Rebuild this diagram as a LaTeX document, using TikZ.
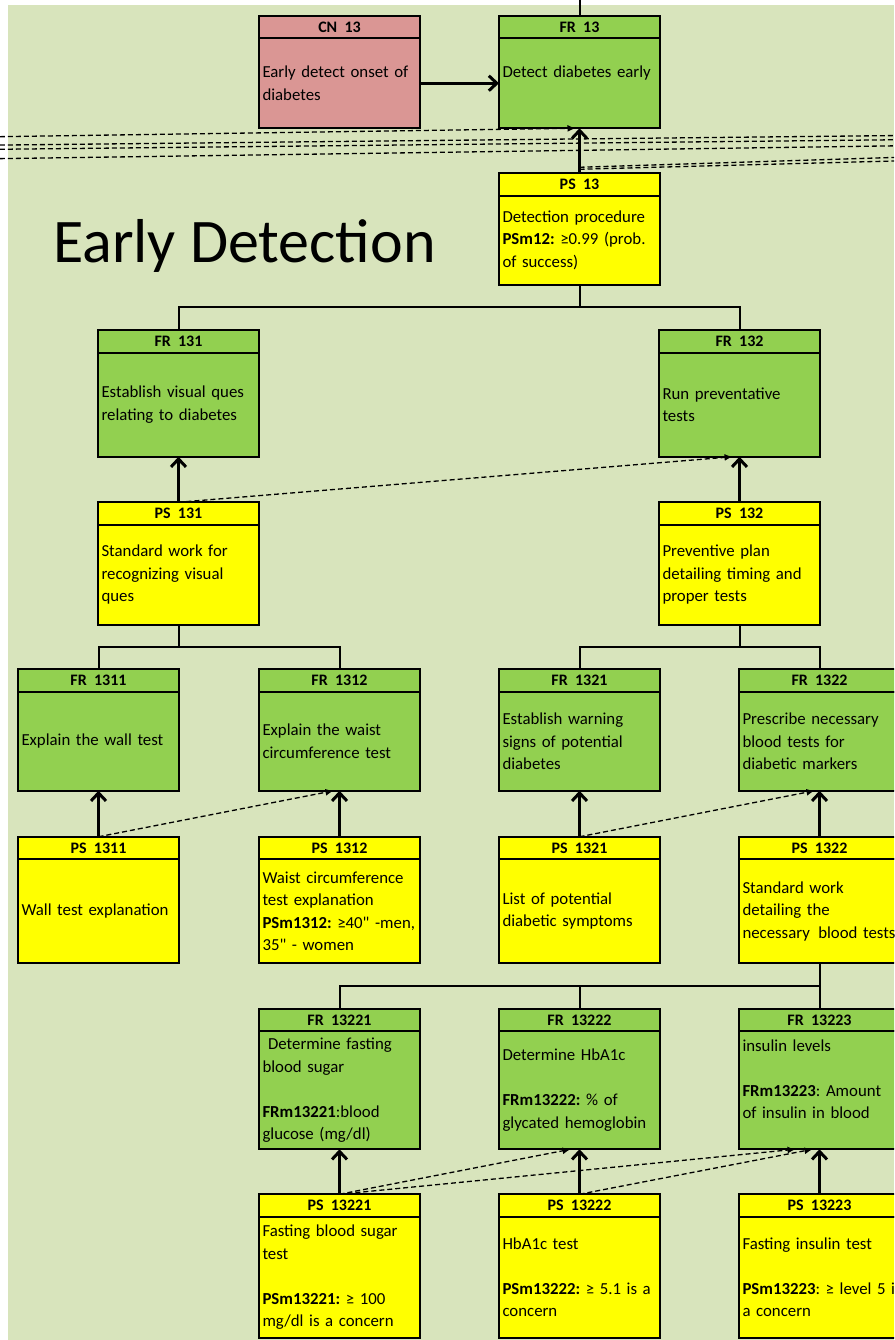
\documentclass[tikz,border=0pt]{standalone}
\usepackage{fontspec}
\setmainfont{Carlito}[Ligatures=TeXOff]
\frenchspacing
\usetikzlibrary{shapes,arrows,arrows.meta}
\usetikzlibrary{positioning}
\definecolor{bggreen}{RGB}{216,228,188}
\definecolor{frgreen}{RGB}{146,208,80}
\definecolor{psyellow}{RGB}{255,255,0}
\definecolor{cnred}{RGB}{218,150,148}

\begin{document}
\begin{tikzpicture}[x=1pt,y=-1pt]

\tikzstyle{head} = [draw, line width=2, outer sep=0, inner sep=0, minimum width=161,
minimum height=22.5, font=\fontsize{16}{19}\selectfont\bfseries]
\tikzstyle{body} = [draw, line width=2, outer sep=0, inner xsep=3.5, inner ysep=0,
text width=154, align=left, minimum width=161, font=\fontsize{16.8}{22.5}\selectfont]
\tikzstyle{green-h} = [head, fill=frgreen]
\tikzstyle{green-b} = [body, fill=frgreen]
\tikzstyle{yellow-h} = [head, fill=psyellow]
\tikzstyle{yellow-b} = [body, fill=psyellow]
\tikzstyle{red-h} = [head, fill=cnred]
\tikzstyle{red-b} = [body, fill=cnred]
\tikzstyle{uparrow} = [line width=3, -{Straight Barb[length=8pt,width=15pt]}]
\tikzstyle{dlink} = [line width=1.3, dash pattern=on 5pt off 3pt, -{Latex[length=8pt,width=7pt]}]
\tikzstyle{dline} = [line width=1.3, dash pattern=on 5pt off 3pt]
\tikzstyle{bus} = [line width=2]

\useasboundingbox (0,0) rectangle (894,1340);
\clip (0,0) rectangle (894,1340);
\fill[white] (0,0) rectangle (894,1340);
\fill[bggreen] (8,5) rectangle (894,1340);

\node[anchor=base west, inner sep=0, font=\fontsize{62}{70}\selectfont] (title) at (53,262) {Early Detection};


\node[red-h] (cn13h) at (339.5,27) {CN~~13};
\node[red-b, minimum height=90, below=0pt of cn13h] (cn13) {Early detect onset of\\diabetes};

\node[green-h] (fr13h) at (579.5,27) {FR~~13};
\node[green-b, minimum height=90, below=0pt of fr13h] (fr13) {Detect diabetes early\\ \mbox{}};

\node[yellow-h] (ps13h) at (579.5,184.5) {PS~~13};
\node[yellow-b, minimum height=89, below=0pt of ps13h] (ps13) {Detection procedure\\\textbf{PSm12:} ≥0.99 (prob.\\of success)};


\node[green-h] (fr131h) at (178.5,341.5) {FR~~131};
\node[green-b, minimum height=104, below=0pt of fr131h] (fr131) {Establish visual ques\\relating to diabetes};

\node[green-h] (fr132h) at (739.5,341.5) {FR~~132};
\node[green-b, minimum height=104, below=0pt of fr132h] (fr132) {Run preventative\\tests};

\node[yellow-h] (ps131h) at (178.5,513.5) {PS~~131};
\node[yellow-b, minimum height=100, below=0pt of ps131h] (ps131) {Standard work for\\recognizing visual\\ques};

\node[yellow-h] (ps132h) at (739.5,513.5) {PS~~132};
\node[yellow-b, minimum height=100, below=0pt of ps132h] (ps132) {Preventive plan\\detailing timing and\\proper tests};


\node[green-h] (fr1311h) at (98.5,680.5) {FR~~1311};
\node[green-b, minimum height=99, below=0pt of fr1311h] (fr1311) {Explain the wall test};

\node[green-h] (fr1312h) at (339.5,680.5) {FR~~1312};
\node[green-b, minimum height=99, below=0pt of fr1312h] (fr1312) {Explain the waist\\circumference test};

\node[green-h] (fr1321h) at (579.5,680.5) {FR~~1321};
\node[green-b, minimum height=99, below=0pt of fr1321h] (fr1321) {Establish warning\\signs of potential\\diabetes};

\node[green-h] (fr1322h) at (819.5,680.5) {FR~~1322};
\node[green-b, minimum height=99, below=0pt of fr1322h] (fr1322) {Prescribe necessary\\blood tests for\\diabetic markers};

\node[yellow-h] (ps1311h) at (98.5,848) {PS~~1311};
\node[yellow-b, minimum height=104, below=0pt of ps1311h] (ps1311) {Wall test explanation};

\node[yellow-h] (ps1312h) at (339.5,848) {PS~~1312};
\node[yellow-b, minimum height=104, below=0pt of ps1312h] (ps1312) {Waist circumference\\test explanation\\\mbox{\textbf{PSm1312:} ≥40" -men,}\\35" - women};

\node[yellow-h] (ps1321h) at (579.5,848) {PS~~1321};
\node[yellow-b, minimum height=104, below=0pt of ps1321h] (ps1321) {List of potential\\diabetic symptoms};

\node[yellow-h] (ps1322h) at (819.5,848) {PS~~1322};
\node[yellow-b, minimum height=104, below=0pt of ps1322h] (ps1322) {Standard work\\detailing the\\\mbox{necessary~\,blood tests}};


\node[green-h] (fr13221h) at (339.5,1020) {FR~~13221};
\node[green-b, minimum height=118, below=0pt of fr13221h] (fr13221) {\ Determine fasting\\blood sugar\\[22.5pt]\textbf{FRm13221}:blood\\glucose (mg/dl)};

\node[green-h] (fr13222h) at (579.5,1020) {FR~~13222};
\node[green-b, minimum height=118, below=0pt of fr13222h] (fr13222) {Determine HbA1c\\[22.5pt]\textbf{FRm13222:} \% of\\glycated hemoglobin};

\node[green-h] (fr13223h) at (819.5,1020) {FR~~13223};
\node[green-b, minimum height=118, below=0pt of fr13223h] (fr13223) {insulin levels\\[22.5pt]\textbf{FRm13223}: Amount\\of insulin in blood\\ \mbox{}};

\node[yellow-h] (ps13221h) at (339.5,1205.5) {PS~~13221};
\node[yellow-b, minimum height=121, below=0pt of ps13221h] (ps13221) {Fasting blood sugar\\test\\[22.5pt]\textbf{PSm13221:} ≥ 100\\mg/dl is a concern};

\node[yellow-h] (ps13222h) at (579.5,1205.5) {PS~~13222};
\node[yellow-b, minimum height=121, below=0pt of ps13222h] (ps13222) {HbA1c test\\[22.5pt]\textbf{PSm13222:} ≥ 5.1 is a\\concern};

\node[yellow-h] (ps13223h) at (819.5,1205.5) {PS~~13223};
\node[yellow-b, minimum height=121, below=0pt of ps13223h] (ps13223) {Fasting insulin test\\[22.5pt]\mbox{\textbf{PSm13223}: ≥ level 5 is}\\a concern};


\coordinate (top13) at (579.5,-20);
\draw[bus] (fr13h.north) -- (top13);
\draw[bus] (ps13.south) -- ++(0,22.5) -| (fr131h.north);
\draw[bus] (ps13.south) -- ++(0,22.5) -| (fr132h.north);
\draw[bus] (ps131.south) -- ++(0,22) -| (fr1311h.north);
\draw[bus] (ps131.south) -- ++(0,22) -| (fr1312h.north);
\draw[bus] (ps132.south) -- ++(0,22) -| (fr1321h.north);
\draw[bus] (ps132.south) -- ++(0,22) -| (fr1322h.north);
\draw[bus] (ps1322.south) -- ++(0,22.5) -| (fr13221h.north);
\draw[bus] (ps1322.south) -- ++(0,22.5) -| (fr13222h.north);
\draw[bus] (ps1322.south) -- ++(0,22.5) -| (fr13223h.north);

\draw[uparrow] (cn13.east) -- (fr13.west);
\draw[uparrow] (ps13h.north) -- (fr13.south);
\draw[uparrow] (ps131h.north) -- (fr131.south);
\draw[uparrow] (ps132h.north) -- (fr132.south);
\draw[uparrow] (ps1311h.north) -- (fr1311.south);
\draw[uparrow] (ps1312h.north) -- (fr1312.south);
\draw[uparrow] (ps1321h.north) -- (fr1321.south);
\draw[uparrow] (ps1322h.north) -- (fr1322.south);
\draw[uparrow] (ps13221h.north) -- (fr13221.south);
\draw[uparrow] (ps13222h.north) -- (fr13222.south);
\draw[uparrow] (ps13223h.north) -- (fr13223.south);

\draw[dlink] (ps131h.north) -- ([xshift=-7pt]fr132.south);
\draw[dlink] (ps1311h.north) -- ([xshift=-6pt]fr1312.south);
\draw[dlink] (ps1321h.north) -- ([xshift=-5pt]fr1322.south);
\draw[dlink] (ps13221h.north) -- ([xshift=-9pt]fr13222.south);
\draw[dlink] (ps13221h.north) -- ([xshift=-24pt]fr13223.south);
\draw[dlink] (ps13222h.north) -- ([xshift=-7pt]fr13223.south);


\coordinate (lnk1) at (-200,139.6);
\coordinate (lnk2a) at (-200,147.2);
\coordinate (lnk2b) at (-200,151.4);
\coordinate (lnk2c) at (1100,133.4);
\coordinate (lnk2d) at (1100,137.6);
\coordinate (lnk3a) at (-200,161.5);
\coordinate (lnk3b) at (1100,142.9);
\coordinate (lnk4a) at (1100,151);
\coordinate (lnk4b) at (1100,155.6);

\draw[dlink] (lnk1) -- ([xshift=-4pt]fr13.south);
\draw[dline] (lnk2a) -- (lnk2c);
\draw[dline] (lnk2b) -- (lnk2d);
\draw[dline] (lnk3a) -- (lnk3b);
\draw[dline] ([yshift=6pt]ps13h.north) -- (lnk4a);
\draw[dline] ([yshift=4pt]ps13h.north) -- (lnk4b);

\end{tikzpicture}
\end{document}
